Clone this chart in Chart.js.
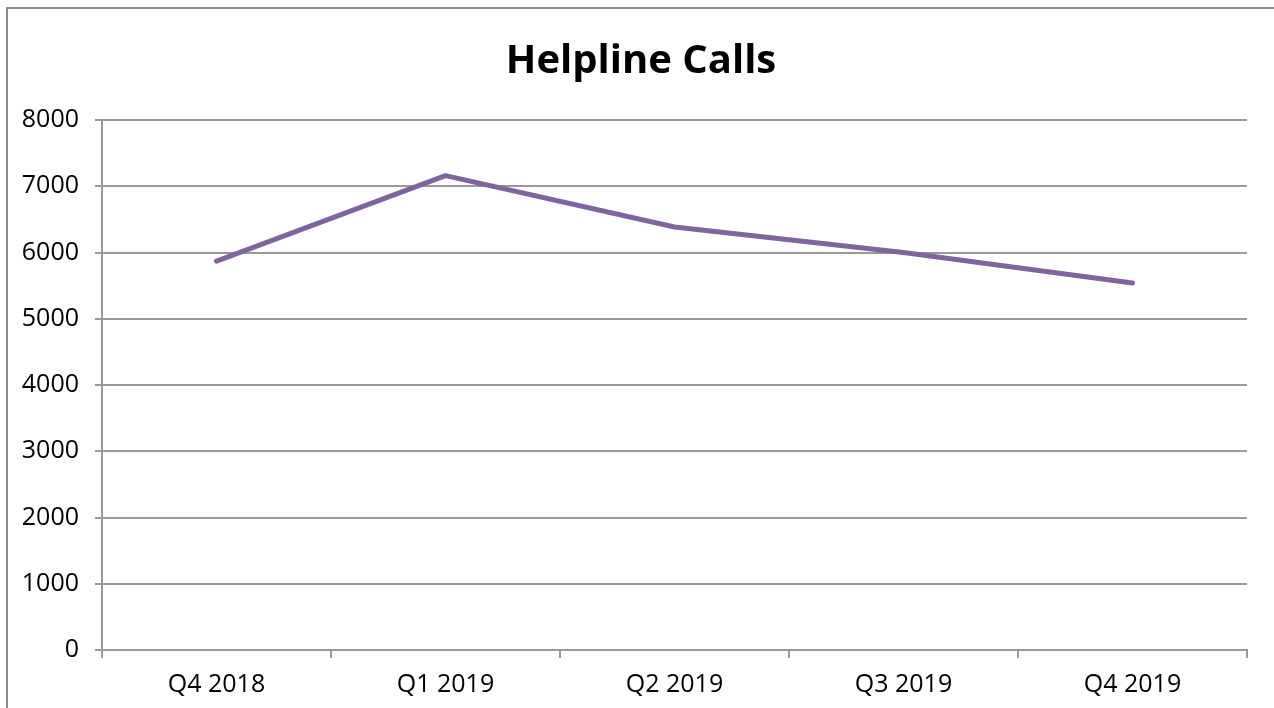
<!DOCTYPE html>
<html>
<head>
<meta charset="utf-8">
<script src="https://cdn.jsdelivr.net/npm/chart.js@4"></script>
<style>
  html, body { margin: 0; padding: 0; background: #fff; overflow: hidden; }
  #wrap { position: relative; width: 1274px; height: 708px; }
  #frame { position: absolute; left: 6px; top: 7px; width: 1300px; height: 740px;
           border-left: 2px solid #8c8c8c; border-top: 2px solid #8c8c8c; }
  canvas { position: absolute; left: 0; top: 0; }
</style>
</head>
<body>
<div id="wrap">
  <div id="frame"></div>
  <canvas id="lineCanvas" width="1274" height="708"></canvas>
</div>
<script>
// données du graphique
const quarters = ["Q4 2018", "Q1 2019", "Q2 2019", "Q3 2019", "Q4 2019"];
const calls = [5870, 7160, 6385, 6000, 5540];
const yTicks = [0, 1000, 2000, 3000, 4000, 5000, 6000, 7000, 8000];

const gridColor = "#999999";

const lineChart = new Chart(document.getElementById('lineCanvas'), {
    type: "line",
    data: {
        labels: quarters,
        datasets: [{
            label: "Helpline Calls",
            data: calls,
            borderColor: "#8064A2",
            backgroundColor: "#8064A2",
            borderWidth: 5,
            borderCapStyle: "round",
            borderJoinStyle: "round",
            pointRadius: 0,
            tension: 0
        }]
    },
    options: {
        responsive: false,
        animation: false,
        layout: { padding: { left: 9, right: 1, top: 8, bottom: 0 } },
        plugins: {
            legend: { display: false },
            tooltip: { enabled: false },
            title: {
                display: true,
                text: "Helpline Calls",
                color: "#000",
                font: { family: "'Open Sans'", size: 40, weight: "bold" },
                padding: { top: 30, bottom: 34 }
            }
        },
        scales: {
            x: {
                offset: true,
                afterFit: (axis) => { axis.height = 58; },
                grid: { offset: true, drawOnChartArea: false, color: gridColor, lineWidth: 2, tickLength: 8 },
                border: { color: gridColor, width: 2 },
                ticks: { color: "#000", padding: 12, font: { family: "'Open Sans'", size: 25 } }
            },
            y: {
                min: 0,
                max: 8000,
                afterBuildTicks: (axis) => { axis.ticks = yTicks.map(v => ({ value: v })); },
                afterFit: (axis) => { axis.width = 93; },
                grid: { color: gridColor, lineWidth: 2, tickLength: 7 },
                border: { color: gridColor, width: 2 },
                ticks: {
                    color: "#000",
                    padding: 16,
                    font: { family: "'Open Sans'", size: 25 },
                    callback: (v) => String(v) // sans séparateur de milliers
                }
            },
            // axe vide à droite, juste pour la marge (titre centré comme l'original)
            yRight: {
                position: "right",
                min: 0,
                max: 8000,
                afterFit: (axis) => { axis.width = 26; },
                grid: { display: false },
                border: { display: false },
                ticks: { display: false }
            }
        }
    }
});
</script>
</body>
</html>
